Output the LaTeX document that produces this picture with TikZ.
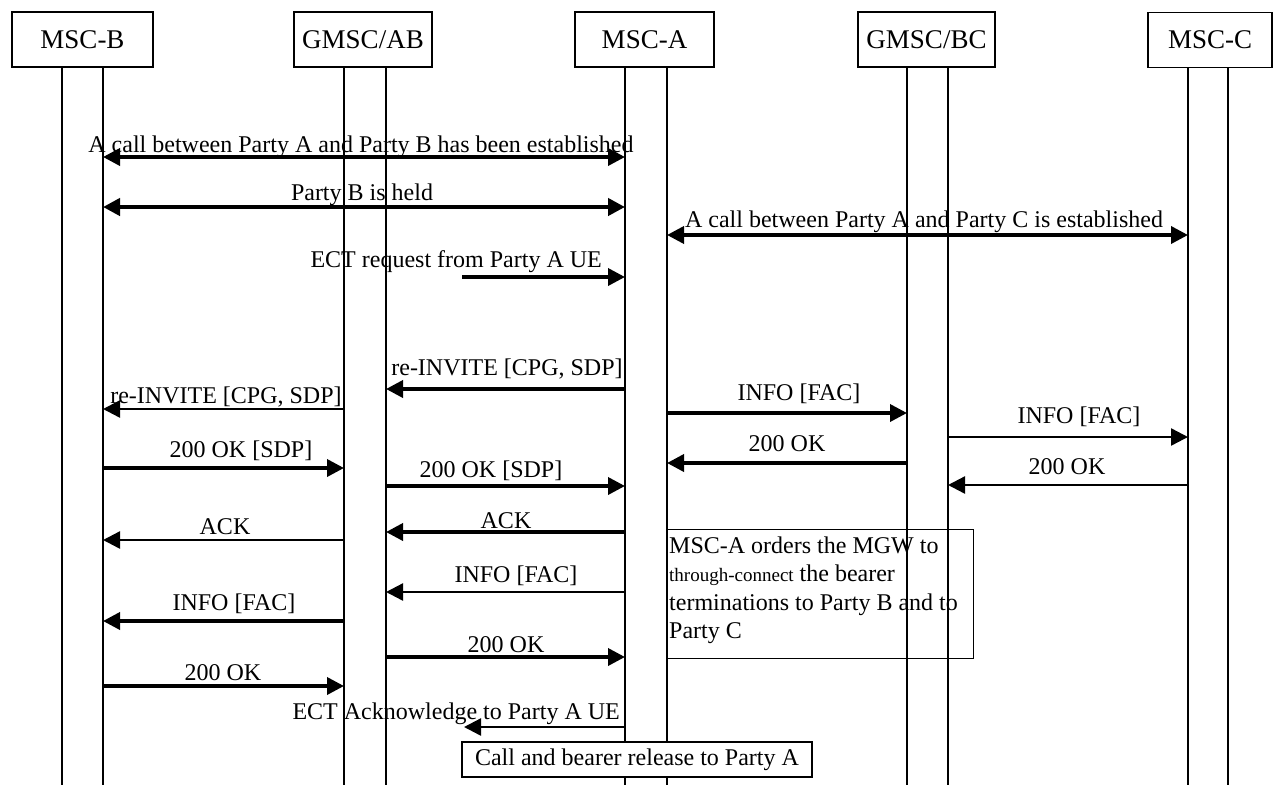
\documentclass[tikz,border=0pt]{standalone}
\usepackage{fontspec}
\setmainfont{Liberation Serif}
\usetikzlibrary{arrows.meta}
\begin{document}
\begin{tikzpicture}[x=1pt,y=-1pt,
  hdr/.style={draw,line width=1.3pt,minimum height=55pt,inner sep=0pt,font=\fontsize{27}{30}\selectfont},
  life/.style={line width=1.3pt},
  tip/.tip={Triangle[length=17pt,width=17pt]},
  thk/.style={line width=3.6pt,-tip},
  thn/.style={line width=2.4pt,-tip},
  dbl/.style={line width=3.6pt,tip-tip},
  lbl/.style={inner sep=0pt,font=\fontsize{24}{28.5}\selectfont,anchor=base},
]
\useasboundingbox (0,0) rectangle (1276,785);
\fill[white] (0,0) rectangle (1276,785);

% header boxes
\node[hdr,minimum width=141pt] (hB)  at (82.5,39.5) {MSC-B};
\node[hdr,minimum width=138pt] (hAB) at (363,39.5) {GMSC/AB};
\node[hdr,minimum width=139pt] (hA)  at (644.5,39.5) {MSC-A};
\node[hdr,minimum width=137pt] (hBC) at (926.5,39.5) {GMSC/BC};
\node[hdr,minimum width=124pt] (hC)  at (1210,40) {MSC-C};

% lifeline tops
\coordinate (B1) at (62,67);   \coordinate (B2) at (103,67);
\coordinate (AB1) at (344,67); \coordinate (AB2) at (386,67);
\coordinate (A1) at (625,67);  \coordinate (A2) at (667,67);
\coordinate (BC1) at (907,67); \coordinate (BC2) at (948,67);
\coordinate (C1) at (1188,67); \coordinate (C2) at (1228,67);
\coordinate (bot) at (0,785);

\foreach \l in {B1,B2,AB1,AB2,A1,A2,BC1,BC2,C1,C2}
  \draw[life] (\l) -- (\l |- bot);

% free ends
\coordinate (ectstart) at (462,277);
\coordinate (ackend) at (464,727);

% messages
\draw[dbl] (B2 |- 0,157) -- (A1 |- 0,157);
\node[lbl] (l1) at (361,152) {A call between Party A and Party B has been established};

\draw[dbl,line width=4.2pt] (B2 |- 0,207) -- (A1 |- 0,207);
\node[lbl] (l2) at (362,200) {Party B is held};

\draw[dbl] (A2 |- 0,235) -- (C1 |- 0,235);
\node[lbl] (l3) at (924,227) {A call between Party A and Party C is established};

\draw[thk] (ectstart) -- (A1 |- ectstart);
\node[lbl,anchor=base east] (l4) at (602,267) {ECT request from Party A UE};

\draw[thk] (A1 |- 0,389) -- (AB2 |- 0,389);
\node[lbl] (l5) at (507,375) {re-INVITE [CPG, SDP]};

\draw[thn] (AB1 |- 0,409) -- (B2 |- 0,409);
\node[lbl] (l6) at (226,403) {re-INVITE [CPG, SDP]};

\draw[thk] (A2 |- 0,413) -- (BC1 |- 0,413);
\node[lbl] (l7) at (799,400) {INFO [FAC]};

\draw[thn] (BC2 |- 0,437) -- (C1 |- 0,437);
\node[lbl] (l8) at (1079,423) {INFO [FAC]};

\draw[thk] (BC1 |- 0,463) -- (A2 |- 0,463);
\node[lbl] (l9) at (787,451) {200 OK};

\draw[thk] (B2 |- 0,468) -- (AB1 |- 0,468);
\node[lbl] (l10) at (241,457) {200 OK [SDP]};

\draw[thn] (C1 |- 0,485) -- (BC2 |- 0,485);
\node[lbl] (l11) at (1067,474) {200 OK};

\draw[thk] (AB2 |- 0,486) -- (A1 |- 0,486);
\node[lbl] (l12) at (491,477) {200 OK [SDP]};

\draw[thk] (A1 |- 0,532) -- (AB2 |- 0,532);
\node[lbl] (l13) at (506,528) {ACK};

\draw[thn] (AB1 |- 0,540) -- (B2 |- 0,540);
\node[lbl] (l14) at (225,534) {ACK};

\draw[thn] (A1 |- 0,592) -- (AB2 |- 0,592);
\node[lbl] (l15) at (516,582) {INFO [FAC]};

\draw[thk] (AB1 |- 0,621) -- (B2 |- 0,621);
\node[lbl] (l16) at (234,610) {INFO [FAC]};

\draw[thk] (AB2 |- 0,657) -- (A1 |- 0,657);
\node[lbl] (l17) at (506,652) {200 OK};

\draw[thk] (B2 |- 0,686) -- (AB1 |- 0,686);
\node[lbl] (l18) at (223,680) {200 OK};

\draw[thn] (A1 |- ackend) -- (ackend);
\node[lbl,anchor=base east] (l19) at (620,719) {ECT Acknowledge to Party A UE};

% annotation box
\node[draw,line width=1.3pt,minimum width=307pt,minimum height=129pt,anchor=north west,inner sep=0pt] (note) at (666,529) {};
\node[inner sep=0pt,align=left,anchor=north west,font=\fontsize{24}{28.5}\selectfont] (notetext)
  at ([xshift=3pt,yshift=-7.6pt]note.north west)
  {MSC-A orders the MGW to\\ {\fontsize{19}{28.5}\selectfont through-connect} the bearer\\ terminations to Party B and to\\ Party C};

% release box
\node[draw,fill=white,line width=1.3pt,minimum width=350pt,minimum height=35pt,inner sep=0pt,font=\fontsize{24}{28}\selectfont] (rel) at (637,759.5) {Call and bearer release to Party A};

\end{tikzpicture}
\end{document}
